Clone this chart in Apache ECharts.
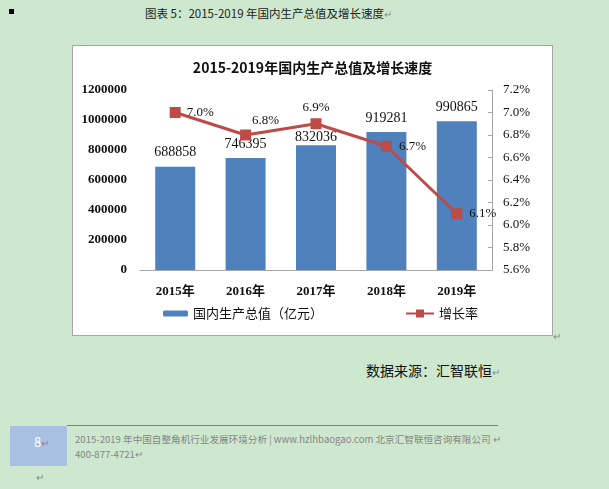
<!DOCTYPE html>
<html>
<head>
<meta charset="utf-8">
<script src="https://cdn.jsdelivr.net/npm/echarts@6/dist/echarts.min.js"></script>
<style>
  html, body { margin: 0; padding: 0; }
  body {
    width: 609px; height: 489px; position: relative; overflow: hidden;
    background: #cde8cf;
    font-family: "Noto Sans CJK SC", sans-serif;
  }
  .abs { position: absolute; white-space: nowrap; }
  .ret { color: #8a8a8a; font-size: 10px; }
  #chart {
    position: absolute; left: 72px; top: 45px; width: 481px; height: 291px;
    box-sizing: border-box; border: 1px solid #a6a6a6; background: #fff;
  }
</style>
</head>
<body>
  <div class="abs" style="left:9px;top:9px;width:5px;height:5px;background:#000;"></div>
  <div class="abs" style="left:145px;top:5px;font-size:11.5px;color:#222;">图表 5：2015-2019 年国内生产总值及增长速度<span class="ret">↵</span></div>
  <div id="chart"></div>
  <div class="abs ret" style="left:553px;top:328px;">↵</div>
  <div class="abs" style="left:366px;top:360px;font-size:14px;color:#111;">数据来源：汇智联恒<span class="ret">↵</span></div>
  <div class="abs" style="left:10px;top:426px;width:57px;height:40px;background:#a9c0e2;"></div>
  <div class="abs" style="left:34px;top:432px;font-size:13px;color:#fff;">8<span class="ret">↵</span></div>
  <div class="abs" style="left:67px;top:425px;width:431px;height:1px;background:#7f7f7f;"></div>
  <div class="abs" style="left:75px;top:431px;font-size:9.6px;color:#858585;">2015-2019 年中国自整角机行业发展环境分析 | www.hzlhbaogao.com 北京汇智联恒咨询有限公司 <span class="ret">↵</span></div>
  <div class="abs" style="left:75px;top:446px;font-size:9.6px;color:#858585;">400-877-4721<span class="ret">↵</span></div>
  <div class="abs ret" style="left:36px;top:469px;">↵</div>
<script>
// 数据
var years = ['2015年', '2016年', '2017年', '2018年', '2019年'];
var gdp = [688858, 746395, 832036, 919281, 990865]; // 国内生产总值（亿元）
var growth = [7.0, 6.8, 6.9, 6.7, 6.1]; // 增长率 %

var serif = '"Liberation Serif", "Noto Sans CJK SC", serif';
var cjk = '"Noto Sans CJK SC", sans-serif';

var myChart = echarts.init(document.getElementById('chart'));

// 每个标签的位置
var barLabelGap = [7, 7, 1, 7, 7];
var lineLabel = [
  { position: 'right', distance: 6 },
  { position: 'top', offset: [20, 3] },
  { position: 'top', distance: 4 },
  { position: 'right', distance: 7 },
  { position: 'right', distance: 7 }
];

var option = {
  animation: false,
  title: {
    text: '2015-2019年国内生产总值及增长速度',
    left: 'center',
    top: 10,
    textStyle: { fontFamily: cjk, fontSize: 14, fontWeight: 'bold', color: '#111' }
  },
  grid: { left: 67, right: 60, top: 44, bottom: 65 },
  legend: [
    {
      data: ['国内生产总值（亿元）'],
      left: 85, top: 256,
      itemWidth: 25, itemHeight: 6,
      textStyle: { fontFamily: cjk, fontSize: 13, color: '#111' }
    },
    {
      data: ['增长率'],
      left: 327, top: 256,
      itemWidth: 28, itemHeight: 10,
      textStyle: { fontFamily: cjk, fontSize: 13, color: '#111' }
    }
  ],
  xAxis: {
    type: 'category',
    data: years,
    axisLine: { lineStyle: { color: '#a6a6a6' } },
    axisTick: { show: false },
    axisLabel: { margin: 15, fontFamily: serif, fontWeight: 'bold', fontSize: 13, color: '#111' }
  },
  yAxis: [
    {
      type: 'value',
      min: 0, max: 1200000, interval: 200000,
      axisLine: { show: false },
      axisTick: { show: false },
      splitLine: { show: false },
      axisLabel: {
        margin: 13, fontFamily: serif, fontWeight: 'bold', fontSize: 13, color: '#111',
        formatter: function (v) { return String(v); }
      }
    },
    {
      type: 'value',
      min: 5.6, max: 7.2, interval: 0.2,
      axisLine: { show: true, lineStyle: { color: '#a6a6a6' } },
      axisTick: { show: true, inside: true, length: 4, lineStyle: { color: '#a6a6a6' } },
      splitLine: { show: false },
      axisLabel: {
        margin: 11, fontFamily: serif, fontSize: 13, color: '#111',
        formatter: function (v) { return v.toFixed(1) + '%'; }
      }
    }
  ],
  series: [
    {
      name: '国内生产总值（亿元）',
      type: 'bar',
      data: gdp.map(function (v, i) {
        return { value: v, label: { distance: barLabelGap[i] } };
      }),
      barWidth: 40,
      itemStyle: { color: '#4f81bd' },
      label: { show: true, position: 'top', fontFamily: serif, fontSize: 14, color: '#111' }
    },
    {
      name: '增长率',
      type: 'line',
      yAxisIndex: 1,
      data: growth.map(function (v, i) {
        return { value: v, label: lineLabel[i] };
      }),
      symbol: 'rect',
      symbolSize: 11,
      lineStyle: { color: '#be4b48', width: 3 },
      itemStyle: { color: '#be4b48' },
      label: {
        show: true, fontFamily: serif, fontSize: 13, color: '#111',
        formatter: function (p) { return p.value.toFixed(1) + '%'; }
      }
    }
  ]
};

myChart.setOption(option);
</script>
</body>
</html>
